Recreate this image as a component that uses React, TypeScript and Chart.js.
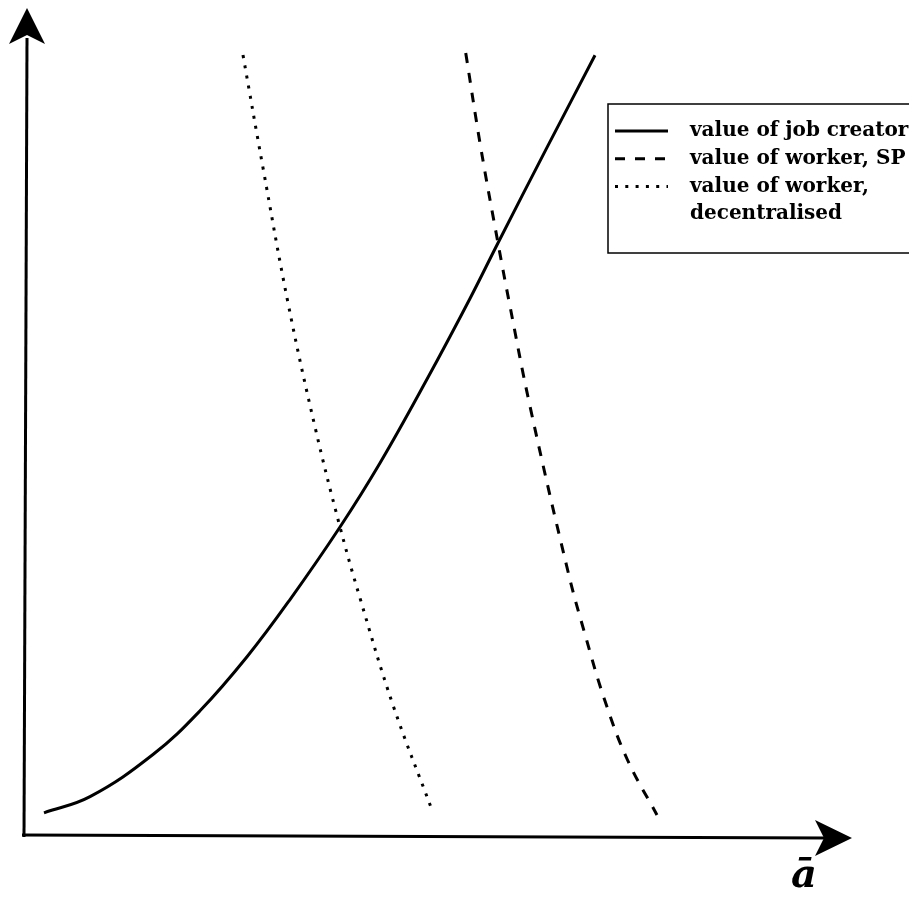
import React, { useEffect, useRef } from "react";
import { Chart, registerables } from "chart.js";

Chart.register(...registerables);

// Series data (abstract units; axes have no ticks)
const jobX = [0.206, 0.764, 1.527, 2.097, 2.667, 3.188, 3.794, 4.279, 4.848, 5.37, 5.709, 6.291, 6.885];
const jobY = [0.28, 0.475, 0.984, 1.512, 2.165, 2.856, 3.732, 4.505, 5.516, 6.492, 7.162, 8.292, 9.429];

const spX = [5.318, 5.499, 5.709, 5.847, 6.099, 6.562, 6.759, 7.002, 7.279, 7.636];
const spY = [9.457, 8.321, 7.162, 6.437, 5.181, 3.176, 2.452, 1.643, 0.918, 0.254];

const decX = [2.618, 2.861, 3.164, 3.491, 3.794, 4.036, 4.436, 4.909];
const decY = [9.432, 8.068, 6.437, 4.94, 3.732, 2.874, 1.582, 0.314];

const seriesLabels: (string | string[])[] = [
  "value of job creator",
  "value of worker, SP",
  ["value of worker,", "decentralised"],
];
const axisLabel = "ā";

const toPts = (xs: number[], ys: number[]) => xs.map((x, i) => ({ x, y: ys[i] }));

const axesPlugin = {
  id: "axesArrows",
  afterDatasetsDraw(chart: any) {
    const { ctx, chartArea } = chart;
    const L = chartArea.left;
    const R = chartArea.right;
    const T = chartArea.top;
    const B = chartArea.bottom;
    ctx.save();
    ctx.strokeStyle = "#000";
    ctx.fillStyle = "#000";
    ctx.lineWidth = 3;
    ctx.setLineDash([]);
    ctx.lineCap = "butt";
    // y axis
    ctx.beginPath();
    ctx.moveTo(L - 3, B + 1);
    ctx.lineTo(L, T + 30);
    ctx.stroke();
    // x axis
    ctx.beginPath();
    ctx.moveTo(L - 5, B - 1);
    ctx.lineTo(R - 25, B + 2);
    ctx.stroke();
    // y arrowhead
    ctx.beginPath();
    ctx.moveTo(L, T);
    ctx.lineTo(L - 18, T + 36);
    ctx.lineTo(L, T + 27);
    ctx.lineTo(L + 18, T + 36);
    ctx.closePath();
    ctx.fill();
    // x arrowhead
    ctx.beginPath();
    ctx.moveTo(R, B + 2);
    ctx.lineTo(R - 37, B - 16);
    ctx.lineTo(R - 28, B + 2);
    ctx.lineTo(R - 37, B + 20);
    ctx.closePath();
    ctx.fill();
    // axis label
    ctx.font = "bold italic 40px 'DejaVu Serif'";
    ctx.textAlign = "center";
    ctx.textBaseline = "alphabetic";
    ctx.fillText(axisLabel, 804, 887);
    ctx.restore();
  },
};

const legendPlugin = {
  id: "boxLegend",
  afterDraw(chart: any) {
    const { ctx } = chart;
    const bx = 608, by = 104, bw = 306, bh = 149;
    ctx.save();
    ctx.fillStyle = "#fff";
    ctx.fillRect(bx, by, bw, bh);
    ctx.strokeStyle = "#000";
    ctx.lineWidth = 1.5;
    ctx.setLineDash([]);
    ctx.strokeRect(bx, by, bw, bh);
    let size = 16;
    ctx.font = `bold ${size}px 'DejaVu Serif'`;
    const w = ctx.measureText("value of job creator").width;
    size = Math.max(12, Math.min(20, size * (222 / w)));
    ctx.font = `bold ${size}px 'DejaVu Serif'`;
    ctx.textAlign = "left";
    ctx.textBaseline = "middle";
    ctx.fillStyle = "#000";
    let row = 0;
    const rowY = (r: number) => 131 + r * 27.7;
    chart.data.datasets.forEach((ds: any) => {
      const y = rowY(row);
      ctx.beginPath();
      ctx.lineWidth = ds.borderWidth;
      ctx.setLineDash(ds.borderDash || []);
      ctx.lineDashOffset = 0;
      ctx.moveTo(615, y);
      ctx.lineTo(668, y);
      ctx.stroke();
      ctx.setLineDash([]);
      const lines = Array.isArray(ds.label) ? ds.label : [ds.label];
      lines.forEach((t: string) => {
        ctx.fillText(t, 690, rowY(row));
        row++;
      });
    });
    ctx.restore();
  },
};

export default function App() {
  const ref = useRef<HTMLCanvasElement | null>(null);
  useEffect(() => {
    if (!ref.current) return;
    const common = {
      borderColor: "#000",
      backgroundColor: "#000",
      borderWidth: 3,
      pointRadius: 0,
      fill: false,
      tension: 0.4,
    };
    const chart = new Chart(ref.current, {
      type: "line",
      data: {
        datasets: [
          { ...common, label: seriesLabels[0] as any, data: toPts(jobX, jobY), borderDash: [] },
          { ...common, label: seriesLabels[1] as any, data: toPts(spX, spY), borderDash: [10, 10] },
          { ...common, label: seriesLabels[2] as any, data: toPts(decX, decY), borderDash: [3, 7.3] },
        ],
      },
      options: {
        responsive: false,
        animation: false,
        layout: { padding: { left: 27, right: 65, top: 8, bottom: 64 } },
        scales: {
          x: { type: "linear", min: 0, max: 10, display: false },
          y: { type: "linear", min: 0, max: 10, display: false },
        },
        plugins: {
          legend: { display: false },
          tooltip: { enabled: false },
        },
      },
      plugins: [axesPlugin, legendPlugin],
    });
    return () => chart.destroy();
  }, []);
  return (
    <div style={{ margin: "-8px", width: 917, height: 900, background: "#fff" }}>
      <canvas ref={ref} width={917} height={900} style={{ display: "block" }} />
    </div>
  );
}
